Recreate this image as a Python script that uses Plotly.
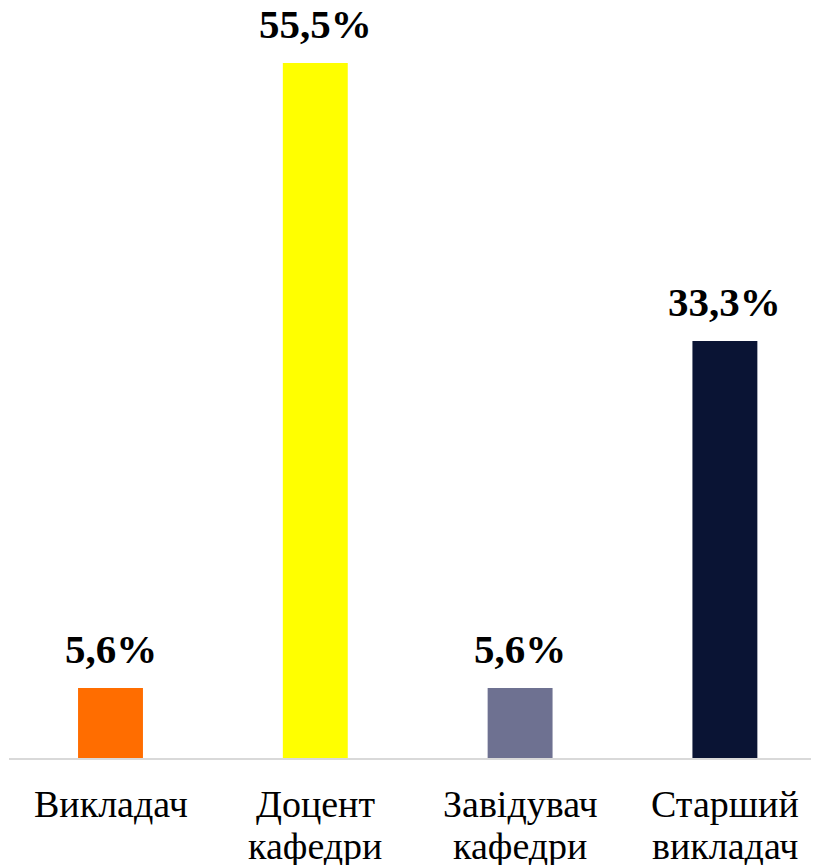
import plotly.graph_objects as go

line1 = ['Викладач', 'Доцент', 'Завідувач', 'Старший']
line2 = ['', 'кафедри', 'кафедри', 'викладач']
values = [5.6, 55.5, 5.6, 33.3]
labels = ['5,6%', '55,5%', '5,6%', '33,3%']
colors = ['#FF6D00', '#FFFF00', '#6E7191', '#0A1434']

SERIF = 'Liberation Serif, Times New Roman, serif'
xs = list(range(len(values)))

fig = go.Figure()
fig.add_trace(go.Bar(
    x=xs, y=values,
    marker=dict(color=colors, line=dict(width=0)),
    width=0.317,
    hoverinfo='skip'
))

# value labels above bars
for i, (v, t) in enumerate(zip(values, labels)):
    fig.add_annotation(
        x=i, y=v, text=t, showarrow=False,
        xanchor='center', yanchor='bottom', yshift=14,
        font=dict(family=SERIF, size=41, color='#000000', weight='bold')
    )

# category labels, two lines with tight spacing
for i, (a, b) in enumerate(zip(line1, line2)):
    fig.add_annotation(
        x=i, xref='x', y=0, yref='paper', text=a, showarrow=False,
        xanchor='center', yanchor='top', yshift=-23,
        font=dict(family=SERIF, size=38, color='#000000')
    )
    if b:
        fig.add_annotation(
            x=i, xref='x', y=0, yref='paper', text=b, showarrow=False,
            xanchor='center', yanchor='top', yshift=-65,
            font=dict(family=SERIF, size=38, color='#000000')
        )

# page body adds an 8px margin, so the figure is sized to fit the window
fig.update_layout(
    width=811, height=857,
    paper_bgcolor='white', plot_bgcolor='white',
    margin=dict(l=1, r=0, t=0, b=107),
    showlegend=False,
    font=dict(family=SERIF, color='#000000'),
    xaxis=dict(
        range=[-0.4956, 3.4595],
        showticklabels=False, automargin=False,
        showgrid=False, zeroline=False,
        showline=True, linecolor='#D9D9D9', linewidth=2,
        ticks=''
    ),
    yaxis=dict(
        range=[0, 59.9], visible=False, showgrid=False, zeroline=False,
        automargin=False
    )
)

fig.write_html('out.html')
